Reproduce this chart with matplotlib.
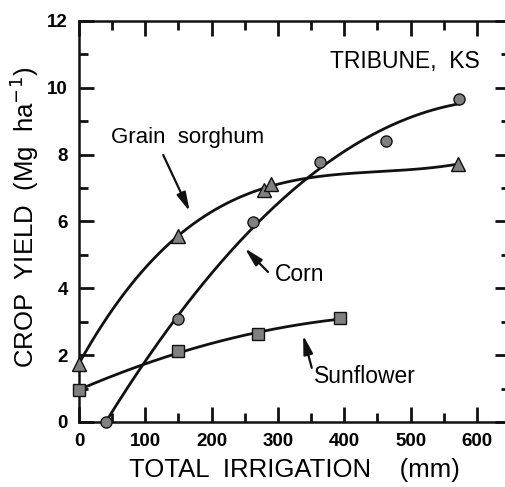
import numpy as np
import matplotlib
matplotlib.use("Agg")
import matplotlib.pyplot as plt
from matplotlib.ticker import MultipleLocator

plt.rcParams['font.family'] = ['Liberation Sans', 'DejaVu Sans']

# Data
corn_x = [40, 150, 263, 363, 463, 573]
corn_y = [0.0, 3.08, 5.98, 7.78, 8.42, 9.67]
sorghum_x = [0, 149, 279, 289, 572]
sorghum_y = [1.75, 5.57, 6.93, 7.12, 7.72]
sun_x = [0, 149, 270, 393]
sun_y = [0.95, 2.12, 2.62, 3.1]

x_ticks = [0, 100, 200, 300, 400, 500, 600]
y_ticks = [0, 2, 4, 6, 8, 10, 12]

W, H = 505, 487
fig = plt.figure(figsize=(W / 100, H / 100), dpi=100)
left_px, right_px, top_px, bot_px = 79, 510, 21, 422
ax = fig.add_axes([left_px / W, 1 - bot_px / H, (right_px - left_px) / W, (bot_px - top_px) / H])
ax.set_xlim(0, 650)
ax.set_ylim(0, 12)

ink = '#111111'
mfc = '#808080'

# Fitted curves (computed from the data points)
cc = np.polyfit(corn_x, corn_y, 2)
roots = np.roots(cc)
x0 = min(r.real for r in roots if abs(r.imag) < 1e-9 and r.real > 0)
xc = np.linspace(x0, corn_x[-1], 200)
ax.plot(xc, np.polyval(cc, xc), color=ink, lw=2.0, zorder=2)

gc = np.polyfit(sorghum_x, sorghum_y, 3)
xs = np.linspace(0, sorghum_x[-1], 200)
ax.plot(xs, np.polyval(gc, xs), color=ink, lw=2.0, zorder=2)

sc = np.polyfit(sun_x, sun_y, 2)
xf = np.linspace(0, sun_x[-1], 200)
ax.plot(xf, np.polyval(sc, xf), color=ink, lw=2.0, zorder=2)

ax.plot(corn_x, corn_y, 'o', ms=8, mfc=mfc, mec=ink, mew=1.0, ls='none', zorder=3, clip_on=False)
ax.plot(sorghum_x, sorghum_y, '^', ms=9.5, mfc=mfc, mec=ink, mew=1.0, ls='none', zorder=3, clip_on=False)
ax.plot(sun_x, sun_y, 's', ms=8, mfc=mfc, mec=ink, mew=1.0, ls='none', zorder=3, clip_on=False)

for s in ax.spines.values():
    s.set_linewidth(1.8)
    s.set_color(ink)

ax.set_xticks(x_ticks)
ax.set_yticks(y_ticks)
ax.xaxis.set_minor_locator(MultipleLocator(50))
ax.yaxis.set_minor_locator(MultipleLocator(1))
ax.tick_params(which='both', direction='in', top=True, right=True, color=ink, width=2.0)
ax.tick_params(which='major', length=11, labelsize=13.5, pad=8)
ax.tick_params(which='minor', length=6.5)
for lab in ax.get_xticklabels() + ax.get_yticklabels():
    lab.set_fontweight('bold')

ax.set_xlabel('TOTAL  IRRIGATION    (mm)', fontsize=18.5, labelpad=6)
fig.text(24 / W, 1 - 217 / H, 'CROP  YIELD  (Mg  ha$^{-1}$)', rotation=90, fontsize=18.5,
         ha='center', va='center')

ax.text(492, 10.8, 'TRIBUNE,  KS', fontsize=16.5, ha='center', va='center')

arrow = dict(arrowstyle='-|>,head_length=0.8,head_width=0.2', color=ink, lw=1.6,
             mutation_scale=14, shrinkA=0, shrinkB=0)

ax.text(164, 8.5, 'Grain  sorghum', fontsize=16, ha='center', va='center')
ax.annotate('', xy=(167, 6.3), xytext=(127, 7.99), arrowprops=arrow)

ax.text(333, 4.4, 'Corn', fontsize=16.5, ha='center', va='center')
ax.annotate('', xy=(250, 5.2), xytext=(285, 4.49), arrowprops=arrow)

ax.text(431, 1.35, 'Sunflower', fontsize=16.5, ha='center', va='center')
ax.annotate('', xy=(338, 2.6), xytext=(351, 1.62), arrowprops=arrow)

fig.savefig('out.png', dpi=100)
